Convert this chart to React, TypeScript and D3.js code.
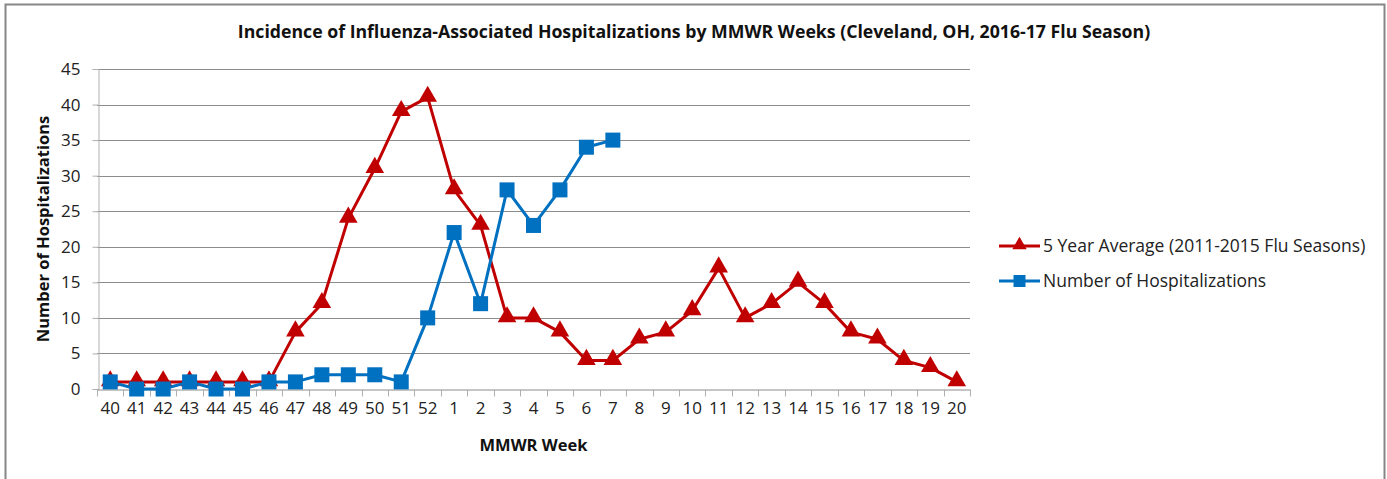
import React, { useEffect, useRef } from "react";
import * as d3 from "d3";

const weeks = [
  "40", "41", "42", "43", "44", "45", "46", "47", "48", "49", "50", "51", "52",
  "1", "2", "3", "4", "5", "6", "7", "8", "9", "10", "11", "12", "13", "14",
  "15", "16", "17", "18", "19", "20",
];
const fiveYearAvg = [
  1, 1, 1, 1, 1, 1, 1, 8, 12, 24, 31, 39, 41, 28, 23, 10, 10, 8, 4, 4, 7, 8,
  11, 17, 10, 12, 15, 12, 8, 7, 4, 3, 1,
];
const hospitalizations = [
  1, 0, 0, 1, 0, 0, 1, 1, 2, 2, 2, 1, 10, 22, 12, 28, 23, 28, 34, 35,
];
const yTicks = [0, 5, 10, 15, 20, 25, 30, 35, 40, 45];

const RED = "#C00000";
const BLUE = "#0070C0";
const FONT = "'Open Sans', sans-serif";

const App = () => {
  const ref = useRef<SVGSVGElement>(null);

  useEffect(() => {
    const width = 1387;
    const height = 479;
    const margin = { top: 69, right: 417, bottom: 90, left: 97 };

    const svg = d3.select(ref.current);
    svg.selectAll("*").remove();

    svg.append("rect")
      .attr("x", 5.5).attr("y", 4.5)
      .attr("width", 1379).attr("height", 490)
      .attr("fill", "#fff").attr("stroke", "#868686").attr("stroke-width", 2);

    const x = d3.scaleBand()
      .domain(weeks)
      .range([margin.left, width - margin.right])
      .padding(0);
    const cx = (w: string) => (x(w) as number) + x.bandwidth() / 2;

    const y = d3.scaleLinear()
      .domain([0, 45])
      .range([height - margin.bottom, margin.top]);
    const bottom = y(0);

    // gridlines
    svg.append("g")
      .selectAll("line")
      .data(yTicks.filter((t) => t > 0))
      .enter()
      .append("line")
      .attr("x1", margin.left).attr("x2", width - margin.right)
      .attr("y1", (d) => Math.round(y(d)) + 0.5).attr("y2", (d) => Math.round(y(d)) + 0.5)
      .attr("stroke", "#8c8c8c").attr("stroke-width", 1);

    // y axis
    const yAxis = svg.append("g")
      .attr("transform", `translate(${margin.left + 1.5},0)`)
      .call(d3.axisLeft(y).tickValues(yTicks).tickSize(6).tickPadding(12));
    yAxis.select(".domain").attr("stroke", "#b0b0b0");
    yAxis.selectAll(".tick line").attr("stroke", "#b0b0b0");
    yAxis.selectAll(".tick text")
      .attr("font-family", FONT).attr("font-size", 17).attr("fill", "#222");

    // x axis
    const xAxis = svg.append("g")
      .attr("transform", `translate(0,${Math.round(bottom) + 0.5})`)
      .call(d3.axisBottom(x).tickSize(0).tickPadding(12));
    xAxis.select(".domain").attr("stroke", "#8c8c8c");
    xAxis.selectAll(".tick text")
      .attr("font-family", FONT).attr("font-size", 17).attr("fill", "#222");
    xAxis.selectAll("line.bound")
      .data([...weeks.map((w) => x(w) as number), width - margin.right])
      .enter()
      .append("line")
      .attr("class", "bound")
      .attr("x1", (d) => Math.round(d) + 0.5).attr("x2", (d) => Math.round(d) + 0.5)
      .attr("y1", 0).attr("y2", 7)
      .attr("stroke", "#b0b0b0");

    const line = d3.line<number>()
      .x((_, i) => cx(weeks[i]))
      .y((d) => y(d));

    // red series
    svg.append("path")
      .datum(fiveYearAvg)
      .attr("d", line)
      .attr("fill", "none").attr("stroke", RED).attr("stroke-width", 3)
      .attr("stroke-linejoin", "round");
    const tri = d3.symbol().type(d3.symbolTriangle).size(150);
    svg.append("g")
      .selectAll("path")
      .data(fiveYearAvg)
      .enter()
      .append("path")
      .attr("d", tri)
      .attr("transform", (d, i) => `translate(${cx(weeks[i])},${y(d) - 1})`)
      .attr("fill", RED);

    // blue series
    svg.append("path")
      .datum(hospitalizations)
      .attr("d", line)
      .attr("fill", "none").attr("stroke", BLUE).attr("stroke-width", 3)
      .attr("stroke-linejoin", "round");
    const sq = 15;
    svg.append("g")
      .selectAll("rect")
      .data(hospitalizations)
      .enter()
      .append("rect")
      .attr("x", (_, i) => cx(weeks[i]) - sq / 2)
      .attr("y", (d) => y(d) - sq / 2)
      .attr("width", sq).attr("height", sq)
      .attr("fill", BLUE);

    // title
    svg.append("text")
      .attr("x", 694).attr("y", 38)
      .attr("text-anchor", "middle")
      .attr("font-family", FONT).attr("font-size", 17.7).attr("font-weight", "bold")
      .attr("fill", "#111")
      .text("Incidence of Influenza-Associated Hospitalizations by MMWR Weeks (Cleveland, OH, 2016-17 Flu Season)");

    // axis titles
    svg.append("text")
      .attr("x", (margin.left + width - margin.right) / 2).attr("y", 451)
      .attr("text-anchor", "middle")
      .attr("font-family", FONT).attr("font-size", 16.5).attr("font-weight", "bold")
      .attr("fill", "#111")
      .text("MMWR Week");
    svg.append("text")
      .attr("transform", `translate(49,${(margin.top + bottom) / 2}) rotate(-90)`)
      .attr("text-anchor", "middle")
      .attr("font-family", FONT).attr("font-size", 16.5).attr("font-weight", "bold")
      .attr("fill", "#111")
      .text("Number of Hospitalizations");

    // legend
    const legend = [
      { label: "5 Year Average (2011-2015 Flu Seasons)", color: RED, mark: "tri" },
      { label: "Number of Hospitalizations", color: BLUE, mark: "sq" },
    ];
    const lg = svg.append("g")
      .selectAll("g")
      .data(legend)
      .enter()
      .append("g")
      .attr("transform", (_, i) => `translate(999,${246 + i * 35})`);
    lg.append("line")
      .attr("x1", 0).attr("x2", 41).attr("y1", 0).attr("y2", 0)
      .attr("stroke", (d) => d.color).attr("stroke-width", 3);
    lg.filter((d) => d.mark === "tri")
      .append("path")
      .attr("d", d3.symbol().type(d3.symbolTriangle).size(90))
      .attr("transform", "translate(20.5,-1)")
      .attr("fill", (d) => d.color);
    lg.filter((d) => d.mark === "sq")
      .append("rect")
      .attr("x", 14.5).attr("y", -6).attr("width", 12).attr("height", 12)
      .attr("fill", (d) => d.color);
    lg.append("text")
      .attr("x", 44).attr("y", 6)
      .attr("font-family", FONT).attr("font-size", 17.5)
      .attr("fill", "#222")
      .text((d) => d.label);
  }, []);

  return (
    <svg
      ref={ref}
      width={1387}
      height={479}
      style={{ position: "absolute", left: 0, top: 0, display: "block" }}
    />
  );
};

export default App;
